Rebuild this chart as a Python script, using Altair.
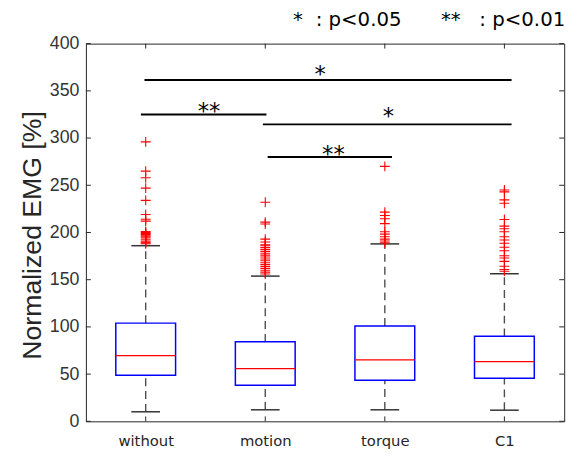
import altair as alt
import pandas as pd

# ---------------- data ----------------
cats = ["without", "motion", "torque", "C1"]
q1 = [48.7, 38.3, 43.5, 45.6]
median = [69.6, 55.7, 65.0, 63.3]
q3 = [104.0, 84.2, 101.0, 90.0]
whisk_lo = [10.1, 12.2, 12.2, 11.8]
whisk_hi = [186.0, 153.8, 187.9, 156.3]

out_without = [296, 265, 258, 247, 234, 219, 214, 212, 201, 200, 199, 198,
               197, 196, 195, 193, 191, 190, 189, 188]
out_motion = [232, 211, 209, 193, 190, 187, 186, 184, 182, 180, 178, 176,
              174, 172, 170, 168, 166, 164, 162, 160, 158, 156]
out_torque = [270, 221.6, 218, 214.6, 209.4, 200.7, 198.3, 195.5, 193, 191, 189]
out_c1 = [245, 243, 234.5, 231, 213.7, 206.7, 203.9, 200.7, 195.5, 192,
          188.6, 184.4, 180.6, 175.4, 173, 169.4, 164.2, 160.8, 159]

# significance brackets (x in category-index units, 1..4)
sig_x1 = [0.99, 0.96, 1.98, 2.02]
sig_x2 = [4.06, 2.01, 4.06, 3.06]
sig_y = [361.5, 325.0, 314.5, 280.0]
sig_label = ["*", "**", "*", "**"]
sig_lx = [2.46, 1.53, 3.03, 2.57]
sig_ly = [373.7, 334.8, 330.0, 289.5]

y_ticks = [0, 50, 100, 150, 200, 250, 300, 350, 400]

# ---------------- tables ----------------
W, H = 485, 383
XMIN, XMAX = 0.5, 4.5
YMIN, YMAX = 0, 400
px_x = (XMAX - XMIN) / W
px_y = (YMAX - YMIN) / H

box_df = pd.DataFrame({"i": [1, 2, 3, 4], "cat": cats, "q1": q1, "med": median,
                       "q3": q3, "lo": whisk_lo, "hi": whisk_hi})

out_rows = []
for idx, vals in enumerate([out_without, out_motion, out_torque, out_c1]):
    for v in vals:
        out_rows.append({"i": idx + 1, "v": v})
out_df = pd.DataFrame(out_rows)

sig_df = pd.DataFrame({"x1": sig_x1, "x2": sig_x2, "y": sig_y,
                       "lab": sig_label, "lx": sig_lx, "ly": sig_ly})

xs = alt.Scale(domain=[XMIN, XMAX], nice=False, zero=False)
ys = alt.Scale(domain=[YMIN, YMAX], nice=False, zero=False)

label_expr = "['without','motion','torque','C1'][datum.value - 1]"

base = alt.Chart(box_df)

# axes carrier (invisible)
axes = base.mark_point(opacity=0).encode(
    x=alt.X("i:Q", scale=xs, axis=alt.Axis(
        values=[1, 2, 3, 4], labelExpr=label_expr, title=None, grid=False,
        ticks=False, domain=False, labelFont="DejaVu Sans", labelFontSize=15,
        labelColor="#262626", labelBaseline="alphabetic", labelPadding=25)),
    y=alt.Y("med:Q", scale=ys, axis=alt.Axis(
        values=y_ticks, title="Normalized EMG [%]", grid=False, ticks=False,
        domain=False, labelFont="Liberation Sans", labelFontSize=18,
        labelColor="#333333", labelPadding=7, titleFont="Liberation Sans",
        titleFontSize=27, titleFontWeight="normal", titleColor="#262626",
        titleAngle=-90, titleX=-46, titleY=194, titleAlign="center",
        titleBaseline="alphabetic")),
)

whisk_hi_l = base.mark_rule(color="#4d4d4d", strokeWidth=1.4, strokeDash=[8, 5]).encode(
    x=alt.X("i:Q", scale=xs), y=alt.Y("q3:Q", scale=ys), y2="hi:Q")
whisk_lo_l = base.mark_rule(color="#4d4d4d", strokeWidth=1.4, strokeDash=[8, 5]).encode(
    x=alt.X("i:Q", scale=xs), y=alt.Y("lo:Q", scale=ys), y2="q1:Q")

caps = base.transform_fold(["lo", "hi"], as_=["k", "cv"]).transform_calculate(
    xa="datum.i - 0.12", xb="datum.i + 0.12"
).mark_rule(color="#333333", strokeWidth=1.5).encode(
    x=alt.X("xa:Q", scale=xs), x2="xb:Q", y=alt.Y("cv:Q", scale=ys))

boxes = base.transform_calculate(
    xa="datum.i - 0.25", xb="datum.i + 0.25"
).mark_rect(fill="white", fillOpacity=0, stroke="#0000FF", strokeWidth=1.5).encode(
    x=alt.X("xa:Q", scale=xs), x2="xb:Q", y=alt.Y("q1:Q", scale=ys), y2="q3:Q")

medians = base.transform_calculate(
    xa="datum.i - 0.25", xb="datum.i + 0.25"
).mark_rule(color="#FF0000", strokeWidth=1.3).encode(
    x=alt.X("xa:Q", scale=xs), x2="xb:Q", y=alt.Y("med:Q", scale=ys))

outliers = alt.Chart(out_df).mark_point(
    shape="M-1,0H1M0,-1V1", size=100, filled=False, stroke="#FF0000",
    strokeWidth=1.1, opacity=1).encode(
    x=alt.X("i:Q", scale=xs), y=alt.Y("v:Q", scale=ys))

sig_lines = alt.Chart(sig_df).mark_rule(color="black", strokeWidth=2).encode(
    x=alt.X("x1:Q", scale=xs), x2="x2:Q", y=alt.Y("y:Q", scale=ys))

sig_text = alt.Chart(sig_df).mark_text(
    font="DejaVu Sans", fontSize=23, color="black", align="center",
    baseline="alphabetic", dy=14).encode(
    x=alt.X("lx:Q", scale=xs), y=alt.Y("ly:Q", scale=ys), text="lab:N")

# inward ticks on the frame
tick_len_x = 5 * px_x
tick_len_y = 5 * px_y
ytick_df = pd.DataFrame({"v": y_ticks})
xtick_df = pd.DataFrame({"i": [1, 2, 3, 4]})
left_ticks = alt.Chart(ytick_df).transform_calculate(
    xa=f"{XMIN}", xb=f"{XMIN + tick_len_x}").mark_rule(color="#262626", strokeWidth=1).encode(
    x=alt.X("xa:Q", scale=xs), x2="xb:Q", y=alt.Y("v:Q", scale=ys))
right_ticks = alt.Chart(ytick_df).transform_calculate(
    xa=f"{XMAX - tick_len_x}", xb=f"{XMAX}").mark_rule(color="#262626", strokeWidth=1).encode(
    x=alt.X("xa:Q", scale=xs), x2="xb:Q", y=alt.Y("v:Q", scale=ys))
bottom_ticks = alt.Chart(xtick_df).transform_calculate(
    ya=f"{YMIN}", yb=f"{YMIN + tick_len_y}").mark_rule(color="#262626", strokeWidth=1).encode(
    x=alt.X("i:Q", scale=xs), y=alt.Y("ya:Q", scale=ys), y2="yb:Q")
top_ticks = alt.Chart(xtick_df).transform_calculate(
    ya=f"{YMAX - tick_len_y}", yb=f"{YMAX}").mark_rule(color="#262626", strokeWidth=1).encode(
    x=alt.X("i:Q", scale=xs), y=alt.Y("ya:Q", scale=ys), y2="yb:Q")

# significance legend at the top right
legend_df = pd.DataFrame({"t": ["*", ": p<0.05", "**", ": p<0.01"],
                          "px": [210, 233, 360, 399]})
legend = alt.Chart(legend_df).mark_text(
    font="DejaVu Sans", fontSize=20, color="black", align="left",
    baseline="alphabetic").encode(
    x=alt.X("px:Q", scale=None), y=alt.value(-18), text="t:N")

chart = alt.layer(
    axes, whisk_hi_l, whisk_lo_l, caps, boxes, medians, outliers,
    left_ticks, right_ticks, bottom_ticks, top_ticks,
    sig_lines, sig_text, legend
).properties(
    width=W, height=H,
    autosize=alt.AutoSizeParams(type="none"),
    padding={"left": 79, "top": 33, "right": 13, "bottom": 30},
).configure_view(stroke="#262626", strokeWidth=1)

chart.save("out.html", embed_options={"renderer": "svg", "actions": False})
